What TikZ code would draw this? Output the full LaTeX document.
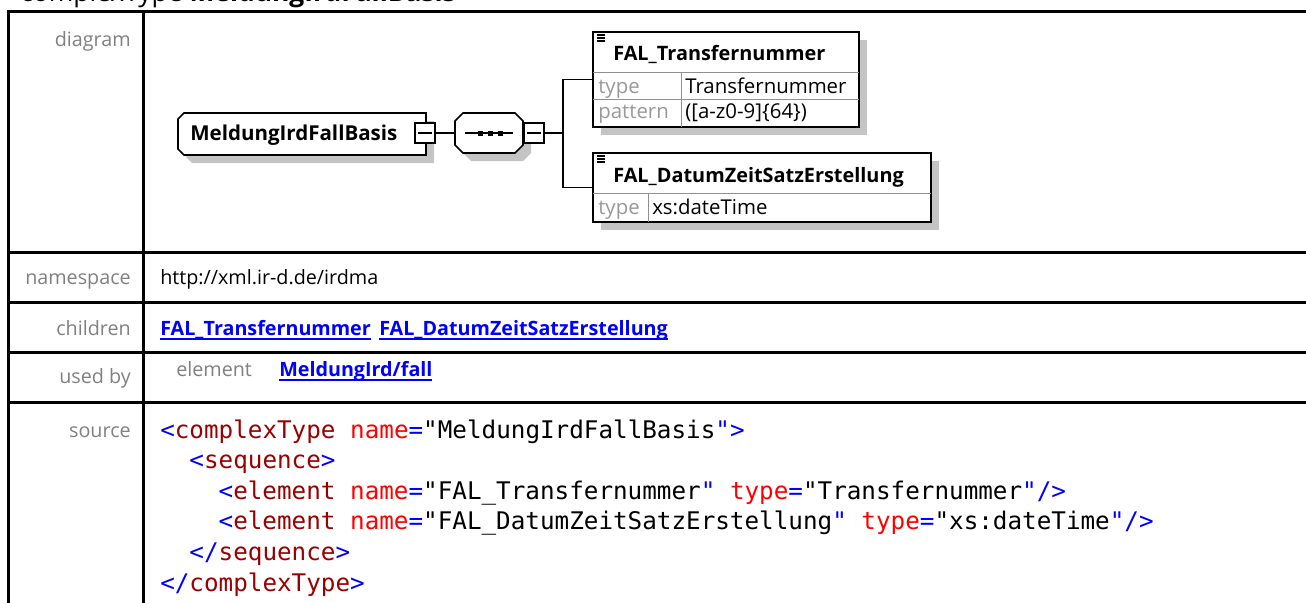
\documentclass[tikz,border=0pt]{standalone}
\usepackage{fontspec}
\setmainfont{Open Sans}
\setmonofont{DejaVu Sans Mono}
\usetikzlibrary{shadows}

\definecolor{lblgray}{HTML}{808080}
\definecolor{keygray}{HTML}{999999}
\definecolor{rulegray}{HTML}{909090}
\definecolor{shadegray}{HTML}{C4C4C4}
\definecolor{lnkblue}{HTML}{0000FF}
\definecolor{xmlblue}{HTML}{0000FF}
\definecolor{xmltag}{HTML}{990000}
\definecolor{xmlatt}{HTML}{FF0000}

\newcommand{\xb}[1]{\textcolor{xmlblue}{#1}}
\newcommand{\xt}[1]{\textcolor{xmltag}{#1}}
\newcommand{\xa}[1]{\textcolor{xmlatt}{#1}}
\newcommand{\lnk}[1]{\textcolor{lnkblue}{\bfseries\setbox0\hbox{#1}\rlap{\rule[-4pt]{\wd0}{1.4pt}}\box0}}

\begin{document}
\begin{tikzpicture}[x=0.75pt,y=-0.75pt,
  tblline/.style={line width=2.25pt},
  lbl/.style={anchor=base east,inner sep=0,text=lblgray,font=\fontsize{14.8}{17}\selectfont},
  txt/.style={anchor=base west,inner sep=0,font=\fontsize{14.8}{17}\selectfont},
  code/.style={anchor=base west,inner sep=0,font=\ttfamily\fontsize{18.2}{21}\selectfont},
  shade/.style={drop shadow={opacity=1,fill=shadegray,shadow xshift=6pt,shadow yshift=-6pt}},
  minusbox/.style={draw,fill=white,line width=0.9pt,minimum size=15pt,inner sep=0},
  elembox/.style={draw,fill=white,line width=1.2pt,inner sep=0,shade},
  head/.style={anchor=base west,inner sep=0,font=\bfseries\fontsize{14.9}{17}\selectfont},
  key/.style={anchor=base west,inner sep=0,text=keygray,font=\fontsize{15.3}{17}\selectfont},
  val/.style={anchor=base west,inner sep=0,font=\fontsize{15.3}{17}\selectfont}]
\useasboundingbox (0,0) rectangle (1306,603);

% title, cut at the top
\node[txt,font=\fontsize{19.8}{22}\selectfont] (title) at (20,1.5) {complexType \textbf{MeldungIrdFallBasis}};

% table
\draw[tblline] (8,603) -- (8,11) -- (1306,11);
\draw[tblline] (143,11) -- (143,603);
\foreach \y in {252,302,352,402} \draw[tblline] (8,\y) -- (1306,\y);

% row labels
\node[lbl] (ldiagram) at (131,46) {diagram};
\node[lbl] (lnamespace) at (131,284) {namespace};
\node[lbl] (lchildren) at (131,335) {children};
\node[lbl] (lusedby) at (131,383) {used by};
\node[lbl] (lsource) at (131,437) {source};

% root element
\draw[fill=white,line width=1.2pt,shade] (184,113) -- (426,113) -- (426,155) -- (184,155) -- (178,149) -- (178,119) -- cycle;
\node[head,font=\bfseries\fontsize{15.4}{17}\selectfont] (root) at (190,140) {MeldungIrdFallBasis};
\node[minusbox] (rootminus) at (425,133) {\rule{11pt}{0.8pt}};

% sequence
\draw[fill=white,line width=1.2pt,shade] (463,113) -- (515,113) -- (523,121) -- (523,145) -- (515,153) -- (463,153) -- (455,145) -- (455,121) -- cycle;
\node[minimum width=51pt,minimum height=30pt,inner sep=0] (seq) at (489,133) {};
\draw[line width=0.9pt] (465,133) -- (513,133);
\foreach \x in {480,490,500} \fill (\x-2.5,130.5) rectangle (\x+2.5,135.5);
\node[minusbox] (seqminus) at (534,133) {\rule{11pt}{0.8pt}};
\draw[line width=0.9pt] (rootminus) -- (seq);

% children
\node[elembox,minimum width=199.5pt,minimum height=71.25pt] (child1) at (726,79.5) {};
\node[elembox,minimum width=253.5pt,minimum height=51.75pt] (child2) at (762,187.5) {};
\coordinate (fork) at (563,133);
\draw[line width=0.9pt] (seqminus) -- (fork);
\draw[line width=0.9pt] (fork) |- (child1.west);
\draw[line width=0.9pt] (fork) |- (child2.west);

% FAL_Transfernummer
\draw[rulegray,line width=0.75pt] (593,72) -- (859,72);
\draw[rulegray,line width=0.75pt] (593,99) -- (859,99);
\draw[rulegray,line width=0.75pt] (681,72) -- (681,127);
\foreach \y in {35,38,41} \draw[line width=0.9pt] (597,\y) -- (605,\y);
\node[head] (h1) at (613,60) {FAL\_Transfernummer};
\node[key] (k1) at (598,93) {type};
\node[val] (v1) at (685,93) {Transfernummer};
\node[key] (k2) at (598,118) {pattern};
\node[val] (v2) at (685,118) {([a-z0-9]\{64\})};

% FAL_DatumZeitSatzErstellung
\draw[rulegray,line width=0.75pt] (593,193) -- (931,193);
\draw[rulegray,line width=0.75pt] (648,193) -- (648,222);
\foreach \y in {156,159,162} \draw[line width=0.9pt] (597,\y) -- (605,\y);
\node[head] (h2) at (613,182) {FAL\_DatumZeitSatzErstellung};
\node[key] (k3) at (598,214) {type};
\node[val] (v3) at (652,214) {xs:dateTime};

% namespace, children, used by
\node[txt] (ns) at (160,284) {http://xml.ir-d.de/irdma};
\node[txt] (c1) at (160,335) {\lnk{FAL\_Transfernummer}};
\node[txt] (c2) at (379,335) {\lnk{FAL\_DatumZeitSatzErstellung}};
\node[txt,text=lblgray] (ukind) at (176,376) {element};
\node[txt] (uref) at (279,376) {\lnk{MeldungIrd/fall}};

% source
\node[code] (s1) at (160,438) {\xb{<}\xt{complexType} \xa{name}\xb{=}"MeldungIrdFallBasis\xb{">}};
\node[code] (s2) at (189.2,468.6) {\xb{<}\xt{sequence}\xb{>}};
\node[code] (s3) at (218.4,499.2) {\xb{<}\xt{element} \xa{name}\xb{=}"FAL\_Transfernummer\xb{"} \xa{type}\xb{=}"Transfernummer\xb{"/>}};
\node[code] (s4) at (218.4,529.8) {\xb{<}\xt{element} \xa{name}\xb{=}"FAL\_DatumZeitSatzErstellung\xb{"} \xa{type}\xb{=}"xs:dateTime\xb{"/>}};
\node[code] (s5) at (189.2,560.4) {\xb{</}\xt{sequence}\xb{>}};
\node[code] (s6) at (160,591) {\xb{</}\xt{complexType}\xb{>}};
\end{tikzpicture}
\end{document}
